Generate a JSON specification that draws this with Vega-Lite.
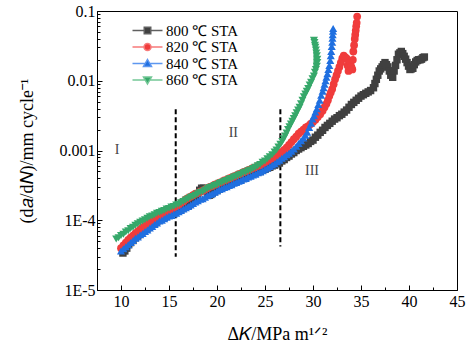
{
"$schema": "https://vega.github.io/schema/vega-lite/v6.json",
"width": 360, "height": 279,
"autosize": {"type": "none"},
"padding": {"left": 97, "top": 11, "right": 11, "bottom": 61},
"config": {"view": {"stroke": "black", "strokeWidth": 1}, "font": "Liberation Serif",
 "axis": {"grid": false, "domainColor": "black", "tickColor": "black", "labelColor": "black", "titleColor": "black", "labelFont": "Liberation Serif", "titleFont": "Liberation Serif", "labelFontSize": 16, "titleFontSize": 18, "titleFontWeight": "normal", "labelFlush": false, "labelOverlap": false},
 "legend": {"labelFont": "Liberation Serif", "labelFontSize": 15, "labelColor": "black", "symbolSize": 100, "labelOffset": 11, "rowPadding": 0.5, "padding": 0, "symbolStrokeWidth": 1.5, "symbolOpacity": 1}},
"datasets": {
"c800": [{"k":10.2,"r":3.39e-5},{"k":10.4,"r":3.63e-5},{"k":10.6,"r":3.98e-5},{"k":10.8,"r":4.47e-5},{"k":11.0,"r":4.79e-5},{"k":11.25,"r":5.13e-5},{"k":11.5,"r":5.62e-5},{"k":11.75,"r":6.03e-5},{"k":12.0,"r":6.46e-5},{"k":12.25,"r":6.92e-5},{"k":12.5,"r":7.41e-5},{"k":12.75,"r":7.76e-5},{"k":13.0,"r":8.32e-5},{"k":13.25,"r":8.71e-5},{"k":13.5,"r":9.12e-5},{"k":13.75,"r":9.77e-5},{"k":14.0,"r":1.02e-4},{"k":14.25,"r":1.07e-4},{"k":14.5,"r":1.10e-4},{"k":14.75,"r":1.15e-4},{"k":15.0,"r":1.20e-4},{"k":15.25,"r":1.26e-4},{"k":15.5,"r":1.29e-4},{"k":15.75,"r":1.35e-4},{"k":16.0,"r":1.38e-4},{"k":16.25,"r":1.45e-4},{"k":16.5,"r":1.51e-4},{"k":16.75,"r":1.58e-4},{"k":17.0,"r":1.62e-4},{"k":17.25,"r":1.74e-4},{"k":17.5,"r":1.91e-4},{"k":17.75,"r":2.14e-4},{"k":18.0,"r":2.40e-4},{"k":18.2,"r":2.69e-4},{"k":18.4,"r":2.88e-4},{"k":18.6,"r":2.88e-4},{"k":18.8,"r":2.75e-4},{"k":19.0,"r":2.45e-4},{"k":19.2,"r":2.29e-4},{"k":19.35,"r":2.34e-4},{"k":19.5,"r":2.45e-4},{"k":19.75,"r":2.57e-4},{"k":20.0,"r":2.69e-4},{"k":20.25,"r":2.82e-4},{"k":20.5,"r":2.95e-4},{"k":20.75,"r":3.09e-4},{"k":21.0,"r":3.16e-4},{"k":21.25,"r":3.31e-4},{"k":21.5,"r":3.39e-4},{"k":21.75,"r":3.55e-4},{"k":22.0,"r":3.63e-4},{"k":22.25,"r":3.80e-4},{"k":22.5,"r":3.89e-4},{"k":22.75,"r":4.07e-4},{"k":23.0,"r":4.17e-4},{"k":23.25,"r":4.37e-4},{"k":23.5,"r":4.47e-4},{"k":23.75,"r":4.68e-4},{"k":24.0,"r":4.79e-4},{"k":24.25,"r":4.90e-4},{"k":24.5,"r":5.01e-4},{"k":24.75,"r":5.25e-4},{"k":25.0,"r":5.37e-4},{"k":25.25,"r":5.62e-4},{"k":25.5,"r":5.75e-4},{"k":25.75,"r":6.03e-4},{"k":26.0,"r":6.17e-4},{"k":26.25,"r":6.46e-4},{"k":26.5,"r":6.61e-4},{"k":26.75,"r":7.08e-4},{"k":27.0,"r":7.41e-4},{"k":27.25,"r":7.94e-4},{"k":27.5,"r":8.32e-4},{"k":27.75,"r":8.91e-4},{"k":28.0,"r":9.33e-4},{"k":28.25,"r":1.00e-3},{"k":28.5,"r":1.05e-3},{"k":28.75,"r":1.10e-3},{"k":29.0,"r":1.15e-3},{"k":29.25,"r":1.20e-3},{"k":29.5,"r":1.26e-3},{"k":29.75,"r":1.35e-3},{"k":30.0,"r":1.41e-3},{"k":30.25,"r":1.55e-3},{"k":30.5,"r":1.66e-3},{"k":30.75,"r":1.82e-3},{"k":31.0,"r":1.95e-3},{"k":31.25,"r":2.14e-3},{"k":31.5,"r":2.29e-3},{"k":31.75,"r":2.45e-3},{"k":32.0,"r":2.63e-3},{"k":32.25,"r":2.82e-3},{"k":32.5,"r":2.95e-3},{"k":32.75,"r":3.16e-3},{"k":33.0,"r":3.31e-3},{"k":33.25,"r":3.55e-3},{"k":33.5,"r":3.80e-3},{"k":33.75,"r":4.17e-3},{"k":34.0,"r":4.57e-3},{"k":34.25,"r":4.90e-3},{"k":34.5,"r":5.25e-3},{"k":34.75,"r":5.62e-3},{"k":35.0,"r":6.03e-3},{"k":35.25,"r":6.31e-3},{"k":35.5,"r":6.61e-3},{"k":35.75,"r":6.92e-3},{"k":36.0,"r":7.24e-3},{"k":36.3,"r":7.94e-3},{"k":36.45,"r":9.12e-3},{"k":36.6,"r":0.0105},{"k":36.75,"r":0.0120},{"k":36.9,"r":0.0138},{"k":37.05,"r":0.0148},{"k":37.2,"r":0.0158},{"k":37.35,"r":0.0170},{"k":37.5,"r":0.0182},{"k":37.65,"r":0.0170},{"k":37.8,"r":0.0158},{"k":37.95,"r":0.0138},{"k":38.1,"r":0.0120},{"k":38.3,"r":0.0112},{"k":38.45,"r":0.0138},{"k":38.6,"r":0.0166},{"k":38.75,"r":0.0200},{"k":38.9,"r":0.0240},{"k":39.05,"r":0.0251},{"k":39.2,"r":0.0263},{"k":39.35,"r":0.0245},{"k":39.5,"r":0.0224},{"k":39.65,"r":0.0204},{"k":39.8,"r":0.0182},{"k":39.95,"r":0.0162},{"k":40.1,"r":0.0145},{"k":40.25,"r":0.0148},{"k":40.4,"r":0.0151},{"k":40.55,"r":0.0170},{"k":40.7,"r":0.0186},{"k":40.85,"r":0.0195},{"k":41.0,"r":0.0200},{"k":41.15,"r":0.0200},{"k":41.3,"r":0.0204},{"k":41.45,"r":0.0214},{"k":41.6,"r":0.0219}],
"c820": [{"k":10.0,"r":3.98e-5},{"k":10.25,"r":4.37e-5},{"k":10.5,"r":4.79e-5},{"k":10.75,"r":5.25e-5},{"k":11.0,"r":5.62e-5},{"k":11.25,"r":6.03e-5},{"k":11.5,"r":6.46e-5},{"k":11.75,"r":6.92e-5},{"k":12.0,"r":7.41e-5},{"k":12.25,"r":7.94e-5},{"k":12.5,"r":8.32e-5},{"k":12.75,"r":8.91e-5},{"k":13.0,"r":9.33e-5},{"k":13.25,"r":1.00e-4},{"k":13.5,"r":1.05e-4},{"k":13.75,"r":1.10e-4},{"k":14.0,"r":1.15e-4},{"k":14.25,"r":1.20e-4},{"k":14.5,"r":1.26e-4},{"k":14.75,"r":1.32e-4},{"k":15.0,"r":1.38e-4},{"k":15.25,"r":1.45e-4},{"k":15.5,"r":1.51e-4},{"k":15.75,"r":1.58e-4},{"k":16.0,"r":1.66e-4},{"k":16.25,"r":1.78e-4},{"k":16.5,"r":1.86e-4},{"k":16.75,"r":2.00e-4},{"k":17.0,"r":2.09e-4},{"k":17.25,"r":2.19e-4},{"k":17.5,"r":2.29e-4},{"k":17.75,"r":2.40e-4},{"k":18.0,"r":2.45e-4},{"k":18.25,"r":2.57e-4},{"k":18.5,"r":2.63e-4},{"k":18.75,"r":2.75e-4},{"k":19.0,"r":2.88e-4},{"k":19.25,"r":3.02e-4},{"k":19.5,"r":3.09e-4},{"k":19.75,"r":3.24e-4},{"k":20.0,"r":3.31e-4},{"k":20.25,"r":3.47e-4},{"k":20.5,"r":3.55e-4},{"k":20.75,"r":3.72e-4},{"k":21.0,"r":3.80e-4},{"k":21.25,"r":3.98e-4},{"k":21.5,"r":4.07e-4},{"k":21.75,"r":4.27e-4},{"k":22.0,"r":4.37e-4},{"k":22.25,"r":4.57e-4},{"k":22.5,"r":4.68e-4},{"k":22.75,"r":4.90e-4},{"k":23.0,"r":5.01e-4},{"k":23.25,"r":5.25e-4},{"k":23.5,"r":5.37e-4},{"k":23.75,"r":5.62e-4},{"k":24.0,"r":5.75e-4},{"k":24.25,"r":6.03e-4},{"k":24.5,"r":6.17e-4},{"k":24.75,"r":6.46e-4},{"k":25.0,"r":6.76e-4},{"k":25.25,"r":7.08e-4},{"k":25.5,"r":7.41e-4},{"k":25.75,"r":7.76e-4},{"k":26.0,"r":8.13e-4},{"k":26.25,"r":8.51e-4},{"k":26.5,"r":8.91e-4},{"k":26.75,"r":9.55e-4},{"k":27.0,"r":1.02e-3},{"k":27.25,"r":1.10e-3},{"k":27.5,"r":1.20e-3},{"k":27.75,"r":1.32e-3},{"k":28.0,"r":1.45e-3},{"k":28.25,"r":1.58e-3},{"k":28.5,"r":1.74e-3},{"k":28.75,"r":1.86e-3},{"k":29.0,"r":2.00e-3},{"k":29.25,"r":2.14e-3},{"k":29.5,"r":2.24e-3},{"k":29.75,"r":2.40e-3},{"k":30.0,"r":2.57e-3},{"k":30.25,"r":2.75e-3},{"k":30.5,"r":3.02e-3},{"k":30.75,"r":3.31e-3},{"k":31.0,"r":3.72e-3},{"k":31.2,"r":4.17e-3},{"k":31.4,"r":4.68e-3},{"k":31.55,"r":5.25e-3},{"k":31.7,"r":6.03e-3},{"k":31.85,"r":6.76e-3},{"k":32.0,"r":7.59e-3},{"k":32.15,"r":8.91e-3},{"k":32.3,"r":0.0105},{"k":32.45,"r":0.0120},{"k":32.6,"r":0.0138},{"k":32.75,"r":0.0158},{"k":32.9,"r":0.0182},{"k":33.05,"r":0.0209},{"k":33.2,"r":0.0229},{"k":33.35,"r":0.0219},{"k":33.5,"r":0.0209},{"k":33.6,"r":0.0166},{"k":33.7,"r":0.0138},{"k":33.8,"r":0.0162},{"k":33.9,"r":0.0182},{"k":34.0,"r":0.0158},{"k":34.1,"r":0.0145},{"k":34.15,"r":0.0200},{"k":34.2,"r":0.0263},{"k":34.28,"r":0.0324},{"k":34.35,"r":0.0398},{"k":34.4,"r":0.0457},{"k":34.45,"r":0.0525},{"k":34.5,"r":0.0603},{"k":34.55,"r":0.0676},{"k":34.6,"r":0.0832}],
"c840": [{"k":10.0,"r":3.63e-5},{"k":10.25,"r":3.89e-5},{"k":10.5,"r":4.17e-5},{"k":10.75,"r":4.47e-5},{"k":11.0,"r":4.79e-5},{"k":11.25,"r":5.13e-5},{"k":11.5,"r":5.50e-5},{"k":11.75,"r":5.75e-5},{"k":12.0,"r":6.17e-5},{"k":12.25,"r":6.46e-5},{"k":12.5,"r":6.92e-5},{"k":12.75,"r":7.24e-5},{"k":13.0,"r":7.76e-5},{"k":13.25,"r":8.13e-5},{"k":13.5,"r":8.71e-5},{"k":13.75,"r":9.12e-5},{"k":14.0,"r":9.77e-5},{"k":14.25,"r":1.00e-4},{"k":14.5,"r":1.05e-4},{"k":14.75,"r":1.10e-4},{"k":15.0,"r":1.15e-4},{"k":15.25,"r":1.17e-4},{"k":15.5,"r":1.23e-4},{"k":15.75,"r":1.26e-4},{"k":16.0,"r":1.32e-4},{"k":16.25,"r":1.38e-4},{"k":16.5,"r":1.45e-4},{"k":16.75,"r":1.51e-4},{"k":17.0,"r":1.58e-4},{"k":17.25,"r":1.66e-4},{"k":17.5,"r":1.74e-4},{"k":17.75,"r":1.82e-4},{"k":18.0,"r":1.91e-4},{"k":18.25,"r":2.00e-4},{"k":18.5,"r":2.04e-4},{"k":18.75,"r":2.14e-4},{"k":19.0,"r":2.24e-4},{"k":19.25,"r":2.34e-4},{"k":19.5,"r":2.40e-4},{"k":19.75,"r":2.51e-4},{"k":20.0,"r":2.63e-4},{"k":20.25,"r":2.75e-4},{"k":20.5,"r":2.82e-4},{"k":20.75,"r":2.95e-4},{"k":21.0,"r":3.02e-4},{"k":21.25,"r":3.16e-4},{"k":21.5,"r":3.24e-4},{"k":21.75,"r":3.39e-4},{"k":22.0,"r":3.47e-4},{"k":22.25,"r":3.63e-4},{"k":22.5,"r":3.72e-4},{"k":22.75,"r":3.89e-4},{"k":23.0,"r":3.98e-4},{"k":23.25,"r":4.17e-4},{"k":23.5,"r":4.27e-4},{"k":23.75,"r":4.47e-4},{"k":24.0,"r":4.57e-4},{"k":24.25,"r":4.79e-4},{"k":24.5,"r":4.90e-4},{"k":24.75,"r":5.13e-4},{"k":25.0,"r":5.37e-4},{"k":25.25,"r":5.62e-4},{"k":25.5,"r":5.89e-4},{"k":25.75,"r":6.17e-4},{"k":26.0,"r":6.46e-4},{"k":26.25,"r":6.92e-4},{"k":26.5,"r":7.24e-4},{"k":26.75,"r":7.76e-4},{"k":27.0,"r":8.13e-4},{"k":27.25,"r":8.71e-4},{"k":27.5,"r":9.12e-4},{"k":27.75,"r":9.77e-4},{"k":28.0,"r":1.05e-3},{"k":28.25,"r":1.15e-3},{"k":28.5,"r":1.26e-3},{"k":28.75,"r":1.38e-3},{"k":29.0,"r":1.51e-3},{"k":29.2,"r":1.66e-3},{"k":29.4,"r":1.82e-3},{"k":29.6,"r":2.14e-3},{"k":29.8,"r":2.45e-3},{"k":29.95,"r":2.82e-3},{"k":30.1,"r":3.16e-3},{"k":30.25,"r":3.55e-3},{"k":30.4,"r":3.98e-3},{"k":30.55,"r":4.57e-3},{"k":30.7,"r":5.25e-3},{"k":30.85,"r":6.17e-3},{"k":31.0,"r":7.08e-3},{"k":31.1,"r":7.94e-3},{"k":31.2,"r":8.91e-3},{"k":31.3,"r":0.0100},{"k":31.4,"r":0.0112},{"k":31.5,"r":0.0126},{"k":31.6,"r":0.0145},{"k":31.7,"r":0.0166},{"k":31.8,"r":0.0195},{"k":31.85,"r":0.0229},{"k":31.9,"r":0.0263},{"k":31.95,"r":0.0309},{"k":32.0,"r":0.0355},{"k":32.03,"r":0.0407},{"k":32.05,"r":0.0457},{"k":32.08,"r":0.0513},{"k":32.1,"r":0.0562}],
"c860": [{"k":9.5,"r":5.37e-5},{"k":9.75,"r":5.62e-5},{"k":10.0,"r":6.03e-5},{"k":10.25,"r":6.31e-5},{"k":10.5,"r":6.76e-5},{"k":10.75,"r":7.08e-5},{"k":11.0,"r":7.59e-5},{"k":11.25,"r":7.94e-5},{"k":11.5,"r":8.51e-5},{"k":11.75,"r":8.91e-5},{"k":12.0,"r":9.33e-5},{"k":12.25,"r":9.77e-5},{"k":12.5,"r":1.02e-4},{"k":12.75,"r":1.07e-4},{"k":13.0,"r":1.12e-4},{"k":13.25,"r":1.15e-4},{"k":13.5,"r":1.20e-4},{"k":13.75,"r":1.26e-4},{"k":14.0,"r":1.29e-4},{"k":14.25,"r":1.35e-4},{"k":14.5,"r":1.38e-4},{"k":14.75,"r":1.45e-4},{"k":15.0,"r":1.48e-4},{"k":15.25,"r":1.55e-4},{"k":15.5,"r":1.58e-4},{"k":15.75,"r":1.66e-4},{"k":16.0,"r":1.70e-4},{"k":16.25,"r":1.78e-4},{"k":16.5,"r":1.86e-4},{"k":16.75,"r":1.95e-4},{"k":17.0,"r":2.04e-4},{"k":17.25,"r":2.14e-4},{"k":17.5,"r":2.19e-4},{"k":17.75,"r":2.29e-4},{"k":18.0,"r":2.40e-4},{"k":18.25,"r":2.51e-4},{"k":18.5,"r":2.57e-4},{"k":18.75,"r":2.69e-4},{"k":19.0,"r":2.82e-4},{"k":19.25,"r":2.95e-4},{"k":19.5,"r":3.02e-4},{"k":19.75,"r":3.16e-4},{"k":20.0,"r":3.24e-4},{"k":20.25,"r":3.39e-4},{"k":20.5,"r":3.47e-4},{"k":20.75,"r":3.63e-4},{"k":21.0,"r":3.72e-4},{"k":21.25,"r":3.89e-4},{"k":21.5,"r":3.98e-4},{"k":21.75,"r":4.17e-4},{"k":22.0,"r":4.27e-4},{"k":22.25,"r":4.47e-4},{"k":22.5,"r":4.57e-4},{"k":22.75,"r":4.79e-4},{"k":23.0,"r":4.90e-4},{"k":23.25,"r":5.13e-4},{"k":23.5,"r":5.25e-4},{"k":23.75,"r":5.50e-4},{"k":24.0,"r":5.75e-4},{"k":24.25,"r":6.03e-4},{"k":24.5,"r":6.31e-4},{"k":24.75,"r":6.76e-4},{"k":25.0,"r":7.08e-4},{"k":25.25,"r":7.59e-4},{"k":25.5,"r":8.13e-4},{"k":25.75,"r":8.71e-4},{"k":26.0,"r":9.55e-4},{"k":26.2,"r":1.02e-3},{"k":26.4,"r":1.12e-3},{"k":26.6,"r":1.23e-3},{"k":26.8,"r":1.35e-3},{"k":26.95,"r":1.48e-3},{"k":27.1,"r":1.62e-3},{"k":27.25,"r":1.78e-3},{"k":27.4,"r":2.00e-3},{"k":27.55,"r":2.19e-3},{"k":27.7,"r":2.40e-3},{"k":27.85,"r":2.63e-3},{"k":28.0,"r":2.88e-3},{"k":28.15,"r":3.16e-3},{"k":28.3,"r":3.47e-3},{"k":28.45,"r":3.80e-3},{"k":28.6,"r":4.17e-3},{"k":28.75,"r":4.68e-3},{"k":28.9,"r":5.25e-3},{"k":29.05,"r":5.89e-3},{"k":29.2,"r":6.46e-3},{"k":29.35,"r":7.08e-3},{"k":29.5,"r":7.76e-3},{"k":29.65,"r":8.71e-3},{"k":29.8,"r":9.55e-3},{"k":29.95,"r":0.0107},{"k":30.1,"r":0.0117},{"k":30.2,"r":0.0132},{"k":30.3,"r":0.0145},{"k":30.4,"r":0.0162},{"k":30.45,"r":0.0182},{"k":30.45,"r":0.0204},{"k":30.4,"r":0.0229},{"k":30.35,"r":0.0251},{"k":30.3,"r":0.0275},{"k":30.25,"r":0.0302},{"k":30.2,"r":0.0324},{"k":30.15,"r":0.0355},{"k":30.1,"r":0.0380}],
"rules": [{"k": 15.7, "r": 0.0039, "r2": 0.00003}, {"k": 26.6, "r": 0.0039, "r2": 0.000042}],
"notes": [{"k": 9.6, "r": 0.00103, "t": "I"}, {"k": 21.7, "r": 0.00176, "t": "II"}, {"k": 29.9, "r": 0.0005, "t": "III"}],
"keys": [{"s": "800 ℃ STA", "k": 3, "r": 0.001}, {"s": "820 ℃ STA", "k": 3, "r": 0.001}, {"s": "840 ℃ STA", "k": 3, "r": 0.001}, {"s": "860 ℃ STA", "k": 3, "r": 0.001}]
},
"encoding": {
 "x": {"field": "k", "type": "quantitative", "scale": {"domain": [7.5, 45], "nice": false, "zero": false},
  "axis": {"title": "Δ𝐾/MPa m¹ᐟ²", "values": [10,12.5,15,17.5,20,22.5,25,27.5,30,32.5,35,37.5,40,42.5,45],
   "labelExpr": "datum.value % 5 == 0 ? datum.label : ''",
   "tickSize": {"condition": {"test": "datum.value % 5 == 0", "value": -5}, "value": -3},
   "labelPadding": 8, "titlePadding": 14}},
 "y": {"field": "r", "type": "quantitative", "scale": {"type": "log", "domain": [0.00001, 0.1], "nice": false},
  "axis": {"title": "(d𝑎/d𝑁)/mm cycle⁻¹",
   "values": [0.00001,0.00002,0.00003,0.00004,0.00005,0.00006,0.00007,0.00008,0.00009,0.0001,0.0002,0.0003,0.0004,0.0005,0.0006,0.0007,0.0008,0.0009,0.001,0.002,0.003,0.004,0.005,0.006,0.007,0.008,0.009,0.01,0.02,0.03,0.04,0.05,0.06,0.07,0.08,0.09,0.1],
   "labelExpr": "datum.value == 0.1 ? '0.1' : datum.value == 0.01 ? '0.01' : datum.value == 0.001 ? '0.001' : datum.value == 0.0001 ? '1E-4' : datum.value == 0.00001 ? '1E-5' : ''",
   "tickSize": {"condition": {"test": "datum.value == 0.1 || datum.value == 0.01 || datum.value == 0.001 || datum.value == 0.0001 || datum.value == 0.00001", "value": -5}, "value": -3},
   "labelPadding": 7, "titlePadding": 23}}
},
"layer": [
 {"data": {"name": "rules"}, "mark": {"type": "rule", "strokeDash": [5, 3], "strokeWidth": 2, "color": "black"}, "encoding": {"y2": {"field": "r2"}}},
 {"data": {"name": "c800"}, "layer": [
   {"mark": {"type": "line", "strokeWidth": 1, "color": "#404040"}, "encoding": {}},
   {"mark": {"type": "point", "filled": true, "opacity": 1, "shape": "square", "size": 55, "color": "#404040"}}]},
 {"data": {"name": "c820"}, "layer": [
   {"mark": {"type": "line", "strokeWidth": 1, "color": "#f03c3c"}, "encoding": {}},
   {"mark": {"type": "point", "filled": true, "opacity": 1, "shape": "circle", "size": 60, "color": "#f03c3c"}}]},
 {"data": {"name": "c840"}, "layer": [
   {"mark": {"type": "line", "strokeWidth": 1, "color": "#1f6fe0"}, "encoding": {}},
   {"mark": {"type": "point", "filled": true, "opacity": 1, "shape": "triangle-up", "size": 65, "color": "#1f6fe0"}}]},
 {"data": {"name": "c860"}, "layer": [
   {"mark": {"type": "line", "strokeWidth": 1, "color": "#36a86a"}, "encoding": {}},
   {"mark": {"type": "point", "filled": true, "opacity": 1, "shape": "triangle-down", "size": 65, "color": "#36a86a"}}]},
 {"data": {"name": "keys"}, "mark": {"type": "point", "filled": true, "clip": true},
  "encoding": {
   "shape": {"field": "s", "type": "nominal", "scale": {"domain": ["800 ℃ STA","820 ℃ STA","840 ℃ STA","860 ℃ STA"], "range": ["M-3,0H-0.7M0.7,0H3M-0.65,-0.65H0.65V0.65H-0.65Z","M-3,0H-0.7M0.7,0H3M0.7,0A0.7,0.7,0,1,1,-0.7,0A0.7,0.7,0,1,1,0.7,0Z","M-3,0H-0.45M0.45,0H3M0,-0.8L0.8,0.6H-0.8Z","M-3,0H-0.45M0.45,0H3M0,0.8L0.8,-0.6H-0.8Z"]},
    "legend": {"title": null, "orient": "none", "legendX": 43, "legendY": 12, "labelFont": "Liberation Serif", "labelFontSize": 15}},
   "fill": {"field": "s", "type": "nominal", "scale": {"domain": ["800 ℃ STA","820 ℃ STA","840 ℃ STA","860 ℃ STA"], "range": ["#404040","#f03c3c","#1f6fe0","#36a86a"]},
    "legend": {"title": null, "orient": "none", "legendX": 43, "legendY": 12, "labelFont": "Liberation Serif", "labelFontSize": 15}},
   "stroke": {"field": "s", "type": "nominal", "scale": {"domain": ["800 ℃ STA","820 ℃ STA","840 ℃ STA","860 ℃ STA"], "range": ["#606060","#f77a7a","#5d97f0","#74c796"]},
    "legend": {"title": null, "orient": "none", "legendX": 43, "legendY": 12, "labelFont": "Liberation Serif", "labelFontSize": 15}}
  }},
 {"data": {"name": "notes"}, "mark": {"type": "text", "font": "Liberation Serif", "fontSize": 14, "color": "#444444"}, "encoding": {"text": {"field": "t"}}}
]
}
